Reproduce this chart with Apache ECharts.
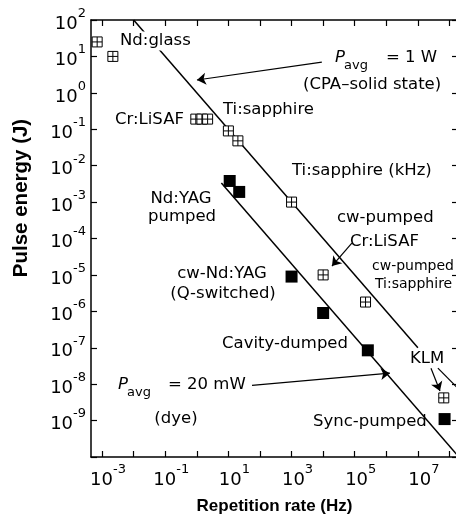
<!DOCTYPE html>
<html>
<head>
<meta charset="utf-8">
<script src="https://cdn.jsdelivr.net/npm/echarts@6/dist/echarts.min.js"></script>
<style>
  html, body { margin: 0; padding: 0; background: #fff; }
  #chart { width: 456px; height: 517px; }
</style>
</head>
<body>
<div id="chart"></div>
<script>
// Pulse energy versus repetition rate of ultrafast / pulsed laser sources (log–log).

// Open (crossed) squares: solid-state sources
const openRate   = [7e-4, 2.2e-3, 0.93, 1.45, 2.2, 10, 20, 1e3, 1e4, 2.2e5, 6.6e7];   // Hz
const openEnergy = [25, 10, 0.19, 0.19, 0.19, 0.09, 0.048, 1e-3, 1e-5, 1.8e-6, 4.2e-9]; // J

// Filled squares: dye-laser sources
const filledRate   = [11, 22, 1e3, 1e4, 2.6e5, 7e7];
const filledEnergy = [3.8e-3, 1.9e-3, 9e-6, 9e-7, 8.5e-8, 1.1e-9];

// Constant average power lines (E = P / f)
const line1WRate     = [1e-2, 1e7];
const line1WEnergy   = [1e2, 1e-7];
const line20mWRate   = [6, 3e8];
const line20mWEnergy = [3.333e-3, 6.667e-11];

// Decade exponents for ticks and labels
const xTickExp  = [-3, -2, -1, 0, 1, 2, 3, 4, 5, 6, 7, 8];
const xLabelExp = [-3, -1, 1, 3, 5, 7];
const yMinExp = -10, yMaxExp = 2;
const xMinExp = -3.35, xMaxExp = 8.27;

// Annotation arrows: [fromRate, fromEnergy, toRate, toEnergy]
const arrows = [
  [9.1e3, 7.0, 1.01, 2.25],
  [8.1e4, 7.5e-5, 1.9e4, 1.75e-5],
  [56, 9.3e-9, 1.3e6, 2.0e-8],
  [2.6e7, 2.75e-8, 5.0e7, 6.5e-9]
];
// pointer leaving the frame on the right (head not shown)
const plainPointers = [
  [4.3e7, 2.75e-8, 1.7e8, 8.3e-9]
];

const lg = Math.log10;
const pairs = (xs, ys) => xs.map((x, i) => [lg(x), lg(ys[i])]);
const segs = list => list.map(a => [{ coord: [lg(a[0]), lg(a[1])] }, { coord: [lg(a[2]), lg(a[3])] }]);

const FONT = '"DejaVu Sans", sans-serif';
const BOLD = '"Liberation Sans", Arial, sans-serif';

const powRich = {
  b: { fontFamily: FONT, fontSize: 18, color: '#000', lineHeight: 26, verticalAlign: 'bottom' },
  s: { fontFamily: FONT, fontSize: 13, color: '#000', lineHeight: 10, verticalAlign: 'top' }
};
const powFmt = v => `{b|10}{s|${Math.round(v)}}`;

// Free-standing labels: text, left/centre x, centre y, size, centred, white backing
const notes = [
  ['Nd:glass', 118, 41, 16.5, false, true],
  ['Cr:LiSAF', 115, 120, 16.5],
  ['Ti:sapphire', 223, 110, 16.5],
  ['(CPA\u2013solid state)', 303, 85, 16.5],
  ['Ti:sapphire (kHz)', 292, 171, 16.5],
  ['Nd:YAG', 181, 199, 16.5, true],
  ['pumped', 182, 217, 16.5, true],
  ['cw-pumped', 337, 218, 16.5],
  ['Cr:LiSAF', 350, 242, 16.5],
  ['cw-pumped', 372, 266, 14],
  ['Ti:sapphire', 375, 284, 14],
  ['cw-Nd:YAG', 222, 274, 16.5, true],
  ['(Q-switched)', 223, 294, 16.5, true],
  ['Cavity-dumped', 222, 344, 16.5],
  ['(dye)', 176, 419, 16.5, true],
  ['KLM', 410, 359, 16.5],
  ['Sync-pumped', 313, 422, 16.5]
];

const textEl = (t, x, y, size, centred, bg, style) => ({
  type: 'text', x, y, z: 50,
  style: Object.assign({
    text: t, fill: '#000',
    font: `${size}px ${FONT}`,
    align: centred ? 'center' : 'left',
    verticalAlign: 'middle',
    backgroundColor: bg ? '#fff' : undefined,
    padding: bg ? [1, 2] : 0
  }, style || {})
});

const graphics = notes.map(n => textEl(n[0], n[1], n[2], n[3], n[4], n[5]));
// P_avg annotations (italic P with subscript)
graphics.push(
  textEl('P', 335, 58, 16.5, false, false, { font: `italic 16.5px ${FONT}` }),
  textEl('avg', 344, 66, 13),
  textEl('= 1 W', 386, 58, 16.5),
  textEl('P', 118, 385, 16.5, false, false, { font: `italic 16.5px ${FONT}` }),
  textEl('avg', 127, 393, 13),
  textEl('= 20 mW', 168, 385, 16.5)
);
// vertical axis title
graphics.push({
  type: 'text', x: 21, y: 198, rotation: Math.PI / 2, z: 50,
  style: { text: 'Pulse energy (J)', fill: '#000', font: `bold 20.5px ${BOLD}`,
           align: 'center', verticalAlign: 'middle' }
});

const axisLineStyle = { show: true, onZero: false, lineStyle: { color: '#000', width: 1.5 } };
const tickStyle = { show: true, inside: true, length: 6, lineStyle: { color: '#000', width: 1.2 } };

const openSquare = 'path://M0,0L10,0L10,10L0,10Z M5,0L5,10 M0,5L10,5';

const pointerLine = { color: '#000', width: 1.2, type: 'solid' };

const option = {
  animation: false,
  backgroundColor: '#fff',
  grid: { left: 91, top: 20, right: -2, bottom: 60, containLabel: false, outerBoundsMode: 'none' },
  xAxis: [
    {
      type: 'value', position: 'bottom', min: xMinExp, max: xMaxExp,
      axisLine: axisLineStyle,
      axisTick: Object.assign({}, tickStyle, { customValues: xTickExp }),
      axisLabel: { show: true, customValues: xLabelExp, formatter: powFmt, rich: powRich,
                   margin: 6, padding: [0, 0, 0, 12] },
      splitLine: { show: false },
      name: 'Repetition rate (Hz)', nameLocation: 'middle', nameGap: 41, nameMoveOverlap: false,
      nameTextStyle: { fontFamily: BOLD, fontWeight: 'bold', fontSize: 17, color: '#000' }
    },
    {
      type: 'value', position: 'top', min: xMinExp, max: xMaxExp,
      axisLine: axisLineStyle,
      axisTick: Object.assign({}, tickStyle, { customValues: xTickExp }),
      axisLabel: { show: false },
      splitLine: { show: false }
    }
  ],
  yAxis: [
    {
      type: 'value', position: 'left', min: yMinExp, max: yMaxExp, interval: 1,
      axisLine: axisLineStyle,
      axisTick: tickStyle,
      axisLabel: { show: true, margin: 5, rich: powRich,
                   formatter: v => (v <= yMinExp ? '' : powFmt(v)) },
      splitLine: { show: false }
    },
    {
      type: 'value', position: 'right', min: yMinExp, max: yMaxExp, interval: 1,
      axisLine: axisLineStyle,
      axisTick: tickStyle,
      axisLabel: { show: false },
      splitLine: { show: false }
    }
  ],
  series: [
    {
      name: 'P = 1 W', type: 'line', xAxisIndex: 0, yAxisIndex: 0,
      data: pairs(line1WRate, line1WEnergy),
      symbol: 'none', clip: true, z: 2,
      lineStyle: { color: '#000', width: 1.5 },
      markLine: {
        silent: true, animation: false,
        symbol: ['none', 'arrow'], symbolSize: 9,
        itemStyle: { color: '#000' },
        lineStyle: pointerLine,
        label: { show: false },
        data: segs(arrows)
      }
    },
    {
      name: 'P = 20 mW', type: 'line', xAxisIndex: 0, yAxisIndex: 0,
      data: pairs(line20mWRate, line20mWEnergy),
      symbol: 'none', clip: true, z: 2,
      lineStyle: { color: '#000', width: 1.5 },
      markLine: {
        silent: true, animation: false,
        symbol: ['none', 'none'],
        lineStyle: pointerLine,
        label: { show: false },
        data: segs(plainPointers)
      }
    },
    {
      name: 'solid state', type: 'scatter', xAxisIndex: 0, yAxisIndex: 0,
      data: pairs(openRate, openEnergy),
      symbol: openSquare, symbolSize: 10, z: 5,
      itemStyle: { color: '#fff', borderColor: '#000', borderWidth: 1, opacity: 1 }
    },
    {
      name: 'dye', type: 'scatter', xAxisIndex: 0, yAxisIndex: 0,
      data: pairs(filledRate, filledEnergy),
      symbol: 'rect', symbolSize: 12, z: 5,
      itemStyle: { color: '#000', opacity: 1 }
    }
  ],
  graphic: { elements: graphics }
};

const chart = echarts.init(document.getElementById('chart'), null, { renderer: 'canvas' });
chart.setOption(option);
</script>
</body>
</html>
